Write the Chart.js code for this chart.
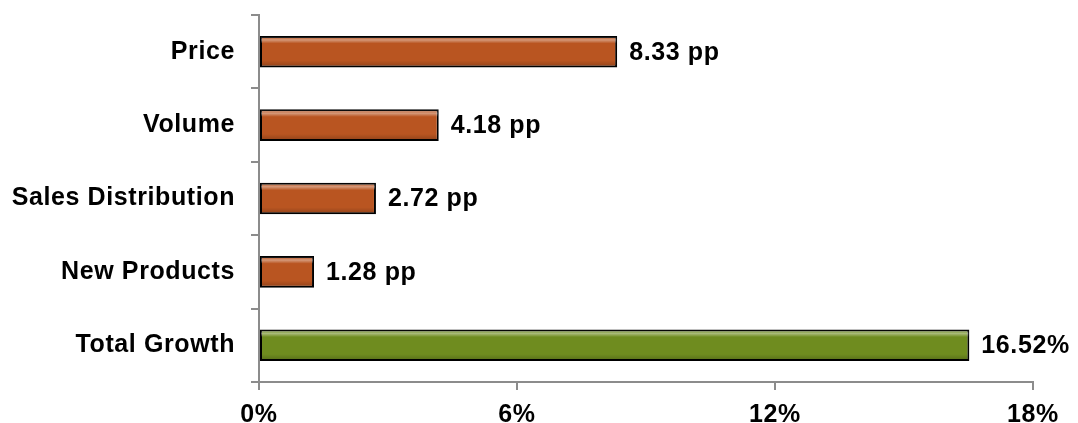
<!DOCTYPE html>
<html lang="en">
<head>
    <meta charset="UTF-8">
    <title>Growth Breakdown</title>
    <style>
        html, body { margin: 0; padding: 0; background: #fff; }
        #wrap { width: 1078px; height: 423px; }
    </style>
</head>
<body>
    <div id="wrap"><canvas id="growthChart" width="1078" height="423"></canvas></div>

    <script src="https://cdn.jsdelivr.net/npm/chart.js"></script>
    <script>
        // data
        const categories = ['Price', 'Volume', 'Sales Distribution', 'New Products', 'Total Growth'];
        const values = [8.33, 4.18, 2.72, 1.28, 16.52];
        const units = ['pp', 'pp', 'pp', 'pp', '%'];
        const xTicks = [0, 6, 12, 18];

        const FONT = '"Liberation Sans", Arial, sans-serif';
        const FONT_SIZE = 25;

        // a bit of letter spacing so the bold text is as wide as the original
        const spacing = {
            id: 'spacing',
            beforeDraw(chart) { chart.ctx.letterSpacing = '0.6px'; }
        };

        // bevel look: light band near the top of each bar, darker bottom edge
        const bevel = {
            id: 'bevel',
            afterDatasetsDraw(chart) {
                const ctx = chart.ctx;
                const meta = chart.getDatasetMeta(0);
                ctx.save();
                meta.data.forEach(bar => {
                    const top = bar.y - bar.height / 2 + 1;
                    const bottom = bar.y + bar.height / 2 - 1;
                    const left = Math.min(bar.base, bar.x) + 1;
                    const right = Math.max(bar.base, bar.x) - 1;
                    const g = ctx.createLinearGradient(0, top, 0, bottom);
                    g.addColorStop(0, 'rgba(255,255,255,0.05)');
                    g.addColorStop(0.1, 'rgba(255,255,255,0.4)');
                    g.addColorStop(0.22, 'rgba(255,255,255,0.0)');
                    g.addColorStop(0.8, 'rgba(0,0,0,0.0)');
                    g.addColorStop(1, 'rgba(0,0,0,0.2)');
                    ctx.fillStyle = g;
                    ctx.fillRect(left, top, right - left, bottom - top);
                });
                ctx.restore();
            }
        };

        // value labels to the right of each bar
        const valueLabels = {
            id: 'valueLabels',
            afterDatasetsDraw(chart) {
                const ctx = chart.ctx;
                const meta = chart.getDatasetMeta(0);
                ctx.save();
                ctx.font = 'bold ' + FONT_SIZE + 'px ' + FONT;
                ctx.fillStyle = '#000';
                ctx.textBaseline = 'middle';
                ctx.textAlign = 'left';
                meta.data.forEach((bar, i) => {
                    const txt = values[i].toFixed(2) + (units[i] === '%' ? '%' : ' ' + units[i]);
                    ctx.fillText(txt, bar.x + 12, bar.y + 1);
                });
                ctx.restore();
            }
        };

        new Chart(document.getElementById('growthChart'), {
            type: 'bar',
            data: {
                labels: categories,
                datasets: [{
                    data: values,
                    backgroundColor: ['#b95521', '#b95521', '#b95521', '#b95521', '#6f8c1f'],
                    borderColor: '#000',
                    borderWidth: 2,
                    borderSkipped: false,
                    categoryPercentage: 1,
                    barPercentage: 0.43
                }]
            },
            options: {
                indexAxis: 'y',
                responsive: false,
                animation: false,
                layout: { padding: { top: 15, right: 45, left: 0, bottom: 0 } },
                plugins: { legend: { display: false }, tooltip: { enabled: false } },
                scales: {
                    x: {
                        min: 0,
                        max: 18,
                        afterBuildTicks(axis) { axis.ticks = xTicks.map(v => ({ value: v })); },
                        afterFit(axis) { axis.height = 41; },
                        grid: { drawOnChartArea: false, drawTicks: true, tickLength: 8, color: '#8c8c8c', lineWidth: 2 },
                        border: { display: true, color: '#8c8c8c', width: 2 },
                        ticks: {
                            color: '#000',
                            padding: 10,
                            maxRotation: 0,
                            font: { family: FONT, size: FONT_SIZE, weight: 'bold' },
                            callback: v => v + '%'
                        }
                    },
                    y: {
                        afterFit(axis) {
                            axis.width = 259;
                            axis.paddingTop = 0;
                            axis.paddingBottom = 0;
                        },
                        grid: { drawOnChartArea: false, drawTicks: true, tickLength: 8, color: '#8c8c8c', lineWidth: 2, offset: true },
                        border: { display: true, color: '#8c8c8c', width: 2 },
                        ticks: {
                            color: '#000',
                            padding: 16,
                            font: { family: FONT, size: FONT_SIZE, weight: 'bold' }
                        }
                    }
                }
            },
            plugins: [spacing, bevel, valueLabels]
        });
    </script>
</body>
</html>
